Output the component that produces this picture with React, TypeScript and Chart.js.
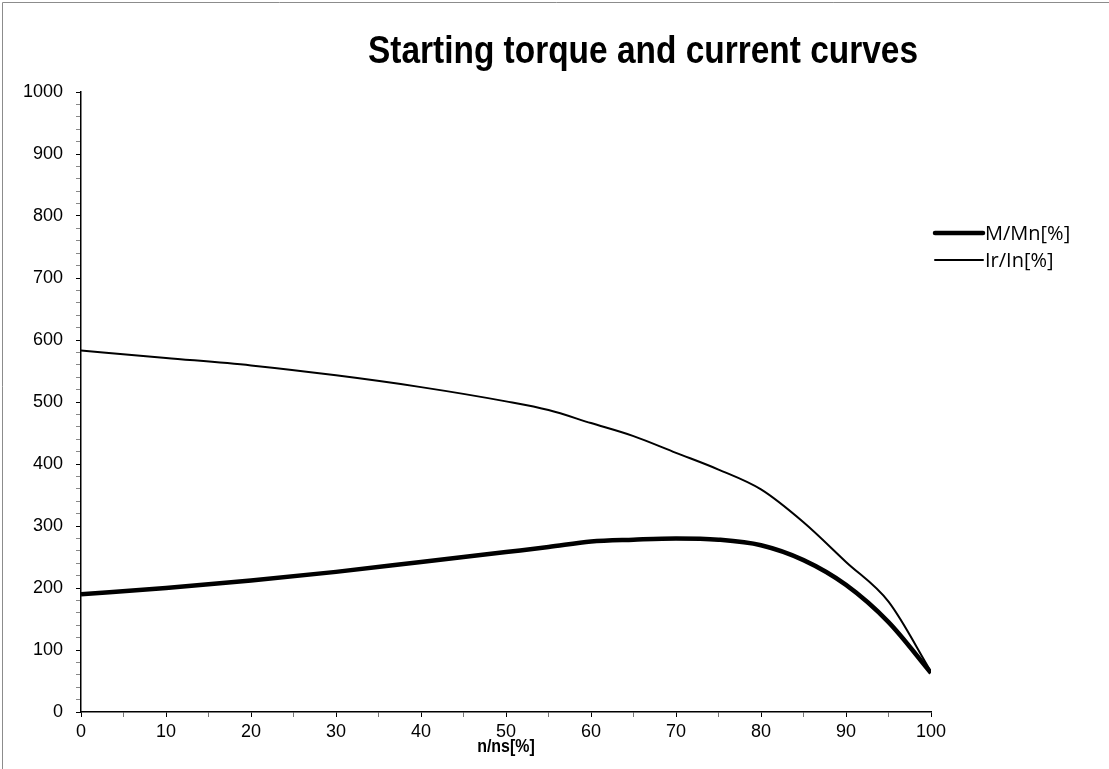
import React, { useEffect, useRef } from "react";
import { Chart, registerables } from "chart.js";

Chart.register(...registerables);

const titleText = "Starting torque and current curves";
const xAxisTitle = "n/ns[%]";
const seriesNames = ["M/Mn[%]", "Ir/In[%]"];

const speed = [0, 10, 20, 30, 40, 50, 55, 60, 65, 70, 75, 80, 85, 90, 95, 100];
const torque = [190, 200, 212, 226, 242, 258, 266, 275, 278, 280, 278, 269, 245, 205, 145, 63];
const current = [583, 571, 559, 543, 524, 501, 487, 466, 445, 418, 391, 359, 306, 242, 178, 65];

const yMin = 0;
const yMax = 1000;
const yStep = 20;
const yLabelStep = 100;
const xMin = 0;
const xMax = 100;
const xStep = 5;
const xLabelStep = 10;

function narrowText(ctx: CanvasRenderingContext2D, text: string, cx: number, cy: number, sx: number) {
  ctx.save();
  ctx.translate(cx, cy);
  ctx.scale(sx, 1);
  ctx.fillText(text, 0, 0);
  ctx.restore();
}

export default function App() {
  const ref = useRef<HTMLCanvasElement | null>(null);

  useEffect(() => {
    if (!ref.current) return;
    const overlay = {
      id: "overlay",
      beforeDraw(chart: any) {
        const ctx = chart.ctx;
        ctx.save();
        ctx.strokeStyle = "#8c8c8c";
        ctx.lineWidth = 1;
        ctx.beginPath();
        ctx.moveTo(2.5, 2000);
        ctx.lineTo(2.5, 2.5);
        ctx.lineTo(2000, 2.5);
        ctx.stroke();
        ctx.restore();
      },
      afterDraw(chart: any) {
        const ctx = chart.ctx;
        const area = chart.chartArea;
        ctx.save();
        ctx.fillStyle = "#000";
        ctx.textAlign = "center";
        ctx.textBaseline = "middle";
        ctx.font = "bold 38px 'Liberation Sans', Arial, sans-serif";
        narrowText(ctx, titleText, 643, 53, 0.88);
        ctx.font = "bold 19px 'Liberation Sans', Arial, sans-serif";
        narrowText(ctx, xAxisTitle, (area.left + area.right) / 2, 747, 0.84);
        // legend
        ctx.textAlign = "left";
        ctx.font = "20px 'Open Sans', 'Noto Sans', sans-serif";
        const ys = [233, 260];
        chart.data.datasets.forEach((ds: any, i: number) => {
          ctx.strokeStyle = ds.borderColor;
          ctx.lineWidth = ds.borderWidth;
          ctx.lineCap = "round";
          ctx.beginPath();
          ctx.moveTo(935, ys[i]);
          ctx.lineTo(983, ys[i]);
          ctx.stroke();
          ctx.fillText(ds.label, 985, ys[i] + 1);
        });
        ctx.restore();
      },
    };

    const chart = new Chart(ref.current, {
      type: "line",
      data: {
        labels: speed,
        datasets: [
          {
            label: seriesNames[0],
            data: speed.map((x, i) => ({ x, y: torque[i] })),
            borderColor: "#000",
            borderWidth: 4.5,
            pointRadius: 0,
            cubicInterpolationMode: "monotone",
            fill: false,
          },
          {
            label: seriesNames[1],
            data: speed.map((x, i) => ({ x, y: current[i] })),
            borderColor: "#000",
            borderWidth: 2,
            pointRadius: 0,
            cubicInterpolationMode: "monotone",
            fill: false,
          },
        ],
      },
      options: {
        animation: false,
        responsive: true,
        maintainAspectRatio: false,
        layout: { padding: { top: 92, right: 178, left: 0, bottom: 0 } },
        plugins: {
          legend: { display: false },
          title: { display: false },
          tooltip: { enabled: false },
        },
        scales: {
          x: {
            type: "linear",
            min: xMin,
            max: xMax,
            border: { color: "#000", width: 1.5 },
            grid: {
              drawOnChartArea: false,
              drawTicks: true,
              tickLength: 5,
              tickColor: (c: any) => (c.tick && c.tick.value % xLabelStep === 0 ? "#000" : "#777"),
            },
            ticks: {
              stepSize: xStep,
              autoSkip: false,
              maxRotation: 0,
              padding: 4,
              color: "#000",
              font: { family: "'Liberation Sans', Arial, sans-serif", size: 18 },
              callback: (v: any) => (Number(v) % xLabelStep === 0 ? String(v) : ""),
            },
            afterFit: (s: any) => {
              s.height = 57;
            },
          },
          y: {
            type: "linear",
            min: yMin,
            max: yMax,
            border: { color: "#000", width: 1.5 },
            grid: {
              drawOnChartArea: false,
              drawTicks: true,
              tickLength: 5,
              tickColor: (c: any) => (c.tick && c.tick.value % yLabelStep === 0 ? "#000" : "#888"),
            },
            ticks: {
              stepSize: yStep,
              autoSkip: false,
              padding: 13,
              color: "#000",
              font: { family: "'Liberation Sans', Arial, sans-serif", size: 18 },
              callback: (v: any) => (Number(v) % yLabelStep === 0 ? String(v) : ""),
            },
            afterFit: (s: any) => {
              s.width = 81;
            },
          },
        },
      },
      plugins: [overlay],
    } as any);
    return () => chart.destroy();
  }, []);

  return (
    <div style={{ position: "absolute", left: 0, top: 0, width: 1109, height: 769, background: "#fff" }}>
      <canvas ref={ref} />
    </div>
  );
}
